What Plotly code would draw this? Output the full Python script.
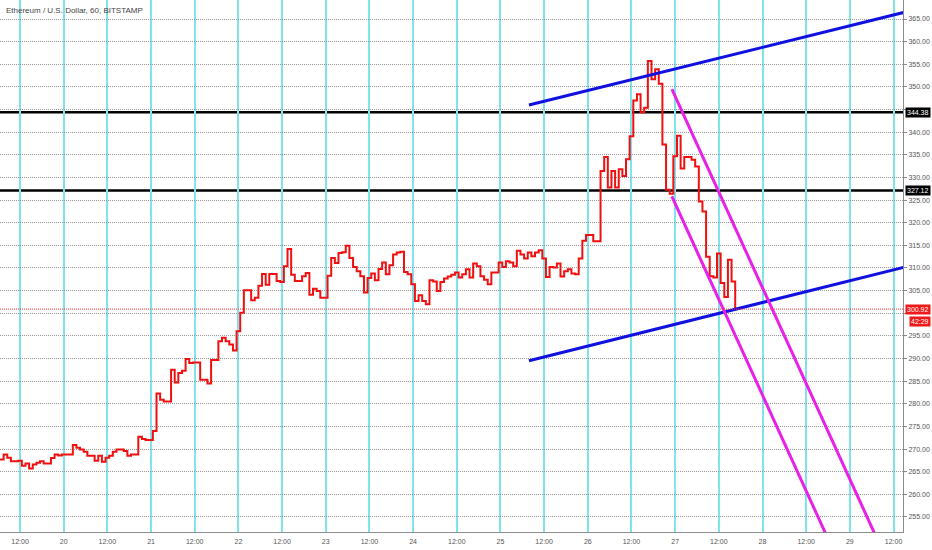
import pandas as pd
import plotly.graph_objects as go

title_text = "Ethereum / U.S. Dollar, 60, BITSTAMP"

# hourly closes, first bar 19 Jun 06:30
close_19_21 = [
    267.7, 268.8, 268.1, 267.3, 267.3, 267.4, 266.3, 266.8, 265.7, 266.6,
    267.0, 267.3, 266.8, 266.8, 268.0, 268.8, 268.6, 268.8, 268.8, 268.8,
    270.9, 270.3, 269.9, 269.4, 268.5, 268.5, 267.4, 268.5, 267.2, 268.1,
    268.5, 269.4, 269.9, 269.9, 269.6, 268.5, 268.8, 268.8, 272.7, 272.2,
    272.0, 272.0, 274.0, 282.3, 280.9, 280.5, 280.5, 287.5, 284.7, 286.8,
    287.3, 289.9, 289.0, 289.1, 289.1, 285.3, 285.3, 284.5, 289.7, 289.7,
]
close_21_23 = [
    293.8, 294.6, 293.8, 293.1, 291.8, 296.0, 300.1, 305.1, 305.1, 302.9,
    303.4, 306.1, 308.7, 306.3, 308.7, 308.7, 307.1, 306.9, 310.4, 314.2,
    308.5, 307.1, 307.1, 308.2, 308.9, 304.1, 305.4, 304.9, 303.4, 303.4,
    308.3, 312.2, 311.1, 313.3, 313.5, 314.9, 312.2, 310.2, 309.3, 308.2,
    304.6, 307.8, 308.8, 307.3, 309.8,
]
close_23_26 = [
    311.2, 308.6, 310.6, 313.0, 313.4, 313.6, 309.1, 308.6, 306.4, 302.7,
    304.0, 302.7, 302.0, 307.3, 307.0, 304.9, 306.9, 307.7, 308.1, 308.5,
    309.0, 307.9, 308.6, 309.7, 307.9, 311.0, 310.4, 308.2, 307.4, 306.4,
    309.0, 309.0, 311.2, 310.2, 311.5, 311.2, 310.4, 313.8, 313.0, 312.1,
    313.4, 312.6, 313.4, 313.9, 312.1, 308.0, 310.2, 310.1, 311.0, 308.1,
    309.3, 309.7, 308.8, 308.6, 312.1, 316.0, 317.3, 317.3, 315.9, 315.9,
]
close_26_27 = [
    331.4, 334.5, 327.8, 331.4, 327.8, 331.8, 330.3, 334.0, 339.1, 347.0,
    348.4, 344.4, 345.4, 355.7, 351.7, 353.9, 350.7, 337.3, 327.3, 326.4,
    334.7, 339.2, 332.0, 334.5, 334.5, 333.9, 332.4, 324.7, 322.5, 312.5,
    308.2, 307.9, 313.2, 306.7, 303.6, 311.8, 307.0, 300.92,
]
closes = close_19_21 + close_21_23 + close_23_26 + close_26_27
bar_times = pd.date_range("2019-06-19 06:30", periods=len(closes), freq="h")

tick_times = [
    "2019-06-19 12:00", "2019-06-20 00:00", "2019-06-20 12:00", "2019-06-21 00:00",
    "2019-06-21 12:00", "2019-06-22 00:00", "2019-06-22 12:00", "2019-06-23 00:00",
    "2019-06-23 12:00", "2019-06-24 00:00", "2019-06-24 12:00", "2019-06-25 00:00",
    "2019-06-25 12:00", "2019-06-26 00:00", "2019-06-26 12:00", "2019-06-27 00:00",
    "2019-06-27 12:00", "2019-06-28 00:00", "2019-06-28 12:00", "2019-06-29 00:00",
    "2019-06-29 12:00",
]
tick_labels = [
    "12:00", "20", "12:00", "21", "12:00", "22", "12:00", "23", "12:00", "24",
    "12:00", "25", "12:00", "26", "12:00", "27", "12:00", "28", "12:00", "29",
    "12:00",
]
price_ticks = [255, 260, 265, 270, 275, 280, 285, 290, 295, 300, 305, 310,
               315, 320, 325, 330, 335, 340, 345, 350, 355, 360, 365]
# 300 and 345 sit under the price tags, so they show no label
price_labels = ["255.00", "260.00", "265.00", "270.00", "275.00", "280.00",
                "285.00", "290.00", "295.00", "", "305.00", "310.00", "315.00",
                "320.00", "325.00", "330.00", "335.00", "340.00", "", "350.00",
                "355.00", "360.00", "365.00"]

# drawn levels and channel lines
levels = [344.38, 327.12]
last_price = 300.92
countdown = "42:29"

blue_t = ["2019-06-25 07:50", "2019-06-29 16:00"]
blue_upper_p = [346.0, 366.7]
blue_lower_p = [289.5, 310.4]
mag_upper_t = ["2019-06-26 23:06", "2019-06-29 07:34"]
mag_upper_p = [349.5, 250.0]
mag_lower_t = ["2019-06-26 23:06", "2019-06-28 18:06"]
mag_lower_p = [325.8, 250.0]

fig = go.Figure()

for lv in levels:
    fig.add_hline(y=lv, line=dict(color="black", width=2.5), layer="below")
fig.add_hline(y=last_price, line=dict(color="#ff3030", width=1, dash="1px,1px"))

fig.add_trace(go.Scatter(x=bar_times, y=closes, mode="lines", line_shape="hv",
                         line=dict(color="#f01010", width=2), hoverinfo="x+y"))

fig.add_trace(go.Scatter(x=blue_t, y=blue_upper_p, mode="lines",
                         line=dict(color="#1010e0", width=3)))
fig.add_trace(go.Scatter(x=blue_t, y=blue_lower_p, mode="lines",
                         line=dict(color="#1010e0", width=3)))
fig.add_trace(go.Scatter(x=mag_upper_t, y=mag_upper_p, mode="lines",
                         line=dict(color="#e820e8", width=3)))
fig.add_trace(go.Scatter(x=mag_lower_t, y=mag_lower_p, mode="lines",
                         line=dict(color="#e820e8", width=3)))

# price tags on the right scale
tag_font = dict(color="white", size=7, family="Liberation Sans")
for lv in levels:
    fig.add_annotation(x=1.0, xref="paper", y=lv, yref="y", xanchor="left",
                       text=f"{lv:.2f}", showarrow=False, bgcolor="black",
                       font=tag_font, borderpad=1, xshift=2)
fig.add_annotation(x=1.0, xref="paper", y=last_price, yref="y", xanchor="left",
                   text=f"{last_price:.2f}", showarrow=False, bgcolor="#f01818",
                   font=tag_font, borderpad=1, xshift=2)
fig.add_annotation(x=1.0, xref="paper", y=last_price, yref="y", xanchor="left",
                   text=countdown, showarrow=False, bgcolor="#f01818",
                   font=tag_font, borderpad=1, xshift=6, yshift=-12)

fig.add_annotation(x=0.004, xref="paper", y=0.981, yref="paper", xanchor="left",
                   yanchor="middle", text=title_text, showarrow=False,
                   font=dict(color="#444444", size=8, family="Liberation Sans"))

fig.update_layout(
    width=932, height=550,
    margin=dict(l=0, r=29, t=0, b=18),
    plot_bgcolor="white", paper_bgcolor="white",
    showlegend=False,
    font=dict(family="Liberation Sans", size=7, color="#555555"),
    xaxis=dict(type="date", range=["2019-06-19 06:30", "2019-06-29 14:36"],
               tickvals=tick_times, ticktext=tick_labels,
               showgrid=True, gridcolor="#7fe3ec", gridwidth=1.5,
               showline=True, linecolor="#8c8c8c", linewidth=1,
               ticks="outside", ticklen=3, tickcolor="rgba(0,0,0,0)",
               zeroline=False),
    yaxis=dict(side="right", range=[251.68, 369.2], tickvals=price_ticks,
               ticktext=price_labels, showgrid=True, gridcolor="#999999",
               griddash="1px,1px", gridwidth=1,
               showline=True, linecolor="#8c8c8c", linewidth=1,
               ticks="outside", ticklen=3, tickcolor="#8c8c8c",
               zeroline=False),
)

# the page's default body margin would push the chart off the window
fig.write_html("out.html", config={"displayModeBar": False},
               post_script="document.body.style.margin='0';")
